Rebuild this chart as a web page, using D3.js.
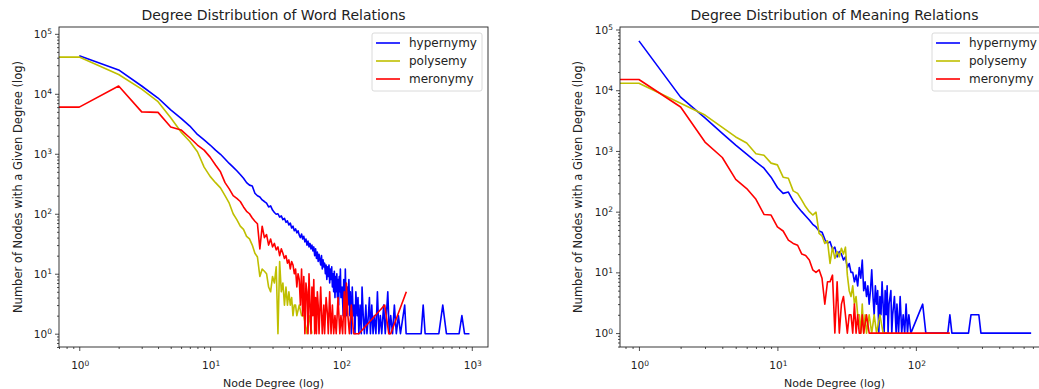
<!DOCTYPE html>
<html>
<head>
<meta charset="utf-8">
<script src="https://cdn.jsdelivr.net/npm/d3@7"></script>
<style>
  body { margin: 0; background: #fff; }
  svg { display: block; font-family: "DejaVu Sans", sans-serif; }
</style>
</head>
<body>
<svg id="chart" width="1039" height="389"></svg>
<script>
// ---- data (degree -> number of nodes) ----
const seriesNames = ['hypernymy', 'polysemy', 'meronymy'];
const seriesColors = ['#0000ff', '#bfbf00', '#ff0000'];
const majorTicks = [1, 10, 100, 1000];

// word relations, hypernymy
const wordHyperDeg = [
  1, 2, 3, 4, 5, 6, 7, 8, 9, 10, 11, 12, 13, 14, 15, 16, 17, 18, 19, 20,
  21, 22, 23, 24, 25, 26, 27, 28, 29, 30, 31, 32, 33, 34, 35, 36, 37, 38, 39, 40,
  41, 42, 43, 44, 45, 46, 47, 48, 49, 50, 51, 52, 53, 54, 55, 56, 57, 58, 59, 60,
  61, 62, 63, 64, 65, 66, 67, 68, 69, 70, 71, 72, 73, 74, 75, 76, 77, 78, 79, 80,
  81, 82, 83, 84, 85, 86, 87, 88, 89, 90, 91, 92, 93, 94, 95, 96, 97, 98, 99, 100,
  102, 104, 105, 107, 108, 110, 112, 113, 115, 117, 118, 120, 122, 124, 126, 128, 130, 133, 135, 137,
  140, 143, 145, 148, 151, 155, 158, 162, 165, 168, 172, 176, 180, 185, 190, 195, 200, 205, 212, 218,
  228, 234, 240, 248, 256, 265, 275, 285, 307, 315, 330, 350, 380, 410, 425, 440, 560, 600, 640, 800,
  840, 880, 960
];
const wordHyperCnt = [
  43000, 25000, 13500, 8500, 5400, 3900, 2900, 2100, 1700, 1400, 1150, 980, 820, 690, 600, 520, 450, 390, 330, 300,
  290, 220, 200, 190, 170, 160, 150, 130, 135, 115, 105, 98, 100, 88, 92, 80, 84, 72, 76, 65,
  70, 58, 62, 52, 56, 48, 52, 44, 40, 46, 38, 42, 34, 38, 30, 35, 28, 32, 26, 30,
  24, 28, 20, 26, 18, 23, 16, 21, 17, 14, 20, 12, 17, 13, 15, 10, 14, 8, 13, 9,
  14, 7, 12, 8, 13, 6, 10, 5, 11, 4, 9, 5, 10, 4, 8, 3, 9, 5, 12, 4,
  6, 2, 8, 3, 12, 2, 6, 3, 8, 2, 5, 1, 6, 2, 3, 1, 5, 2, 4, 1,
  3, 1, 6, 2, 1, 3, 1, 2, 4, 1, 3, 1, 2, 1, 5, 1, 2, 1, 3, 1,
  5, 1, 2, 1, 3, 1, 2, 1, 3, 1, 1, 1, 1, 1, 3, 1, 1, 3, 1, 1,
  2, 1, 1
];

// word relations, polysemy (degree 0 included)
const wordPolyDeg = [
  0, 1, 2, 3, 4, 5, 6, 7, 8, 9, 10, 11, 12, 13, 14, 15, 16, 17, 18, 19,
  20, 21, 22, 23, 24, 25, 26, 27, 28, 29, 30, 31, 32, 33, 34, 35, 36, 37, 38, 39,
  40, 41, 42, 43, 44, 45, 46, 48, 50, 52, 55, 57, 60
];
const wordPolyCnt = [
  40000, 41000, 21000, 12000, 7400, 4000, 2300, 1600, 1080, 600, 420, 330, 270, 200, 150, 100, 80, 62, 55, 42,
  38, 30, 22, 19, 9, 12, 11, 10, 6, 5, 9, 7, 13, 1, 16, 5, 7, 3, 6, 3,
  5, 3, 4, 2, 3, 3, 2, 3, 2, 2, 1, 2, 1
];

// word relations, meronymy (degree 0 included)
const wordMeroDeg = [
  0, 1, 2, 3, 4, 5, 6, 7, 8, 9, 10, 11, 12, 13, 14, 15, 16, 17, 18, 19,
  20, 21, 22, 23, 24, 25, 26, 27, 28, 29, 30, 31, 32, 33, 34, 35, 36, 37, 38, 39,
  40, 41, 42, 43, 44, 45, 46, 47, 48, 49, 50, 51, 52, 53, 54, 55, 56, 57, 58, 59,
  60, 61, 62, 63, 64, 65, 66, 67, 68, 70, 72, 74, 75, 77, 79, 80, 82, 84, 86, 88,
  90, 92, 95, 98, 100, 103, 106, 108, 110, 113, 116, 120, 125, 137, 216, 232, 240, 316
];
const wordMeroCnt = [
  6000, 6000, 13500, 5000, 4900, 2800, 2500, 1850, 1400, 1150, 880, 650, 500, 330, 260, 200, 180, 160, 130, 110,
  100, 85, 75, 68, 26, 62, 40, 45, 30, 38, 28, 32, 25, 28, 20, 26, 22, 18, 20, 15,
  17, 12, 16, 14, 10, 12, 6, 10, 8, 3, 12, 2, 9, 1, 7, 5, 1, 10, 3, 1,
  6, 2, 8, 1, 4, 1, 5, 3, 1, 6, 1, 3, 1, 4, 2, 1, 5, 1, 3, 1,
  2, 1, 4, 1, 2, 1, 5, 1, 7, 2, 1, 3, 1, 1, 3, 1, 1, 5
];

// meaning relations, hypernymy
const meanHyperDeg = [
  1, 2, 3, 4, 5, 6, 7, 8, 9, 10, 11, 12, 13, 14, 15, 16, 17, 18, 19, 20,
  21, 22, 23, 24, 25, 26, 27, 28, 29, 30, 31, 32, 33, 34, 35, 36, 37, 38, 39, 40,
  41, 42, 43, 44, 45, 46, 47, 48, 49, 50, 51, 52, 53, 54, 55, 56, 57, 58, 59, 60,
  61, 62, 63, 64, 66, 67, 68, 70, 72, 73, 75, 77, 79, 81, 83, 85, 87, 89, 92, 112,
  118, 170, 176, 182, 240, 250, 285, 295, 680
];
const meanHyperCnt = [
  65000, 7700, 3500, 1950, 1250, 890, 660, 520, 370, 250, 200, 210, 150, 120, 100, 85, 73, 62, 56, 48,
  46, 35, 30, 32, 24, 26, 18, 22, 20, 16, 18, 12, 14, 10, 10, 7, 9, 6, 12, 8,
  16, 5, 7, 4, 6, 3, 5, 11, 4, 2, 6, 3, 5, 1, 4, 2, 7, 3, 1, 5,
  2, 6, 1, 3, 5, 1, 2, 4, 1, 3, 1, 4, 1, 2, 1, 3, 1, 2, 1, 3,
  1, 1, 2, 1, 1, 2, 2, 1, 1
];

// meaning relations, polysemy (degree 0 included)
const meanPolyDeg = [
  0, 1, 2, 3, 4, 5, 6, 7, 8, 9, 10, 11, 12, 13, 14, 15, 16, 17, 18, 19,
  20, 21, 22, 23, 24, 25, 26, 27, 28, 29, 30, 31, 32, 33, 34, 35, 36, 37, 38, 39,
  40, 41, 42, 43, 44, 46, 48, 50, 52, 55, 58, 62
];
const meanPolyCnt = [
  13000, 13000, 6100, 3900, 2450, 1700, 1350, 900, 850, 630, 590, 370, 355, 220, 200, 155, 120, 100, 88, 98,
  44, 40, 30, 33, 14, 26, 17, 22, 18, 25, 20, 26, 9, 5, 4, 6, 3, 4, 2, 2,
  1, 3, 1, 2, 1, 2, 1, 2, 1, 2, 1, 1
];

// meaning relations, meronymy (degree 0 included)
const meanMeroDeg = [
  0, 1, 2, 3, 4, 5, 6, 7, 8, 9, 10, 11, 12, 13, 14, 15, 16, 17, 18, 19,
  20, 21, 22, 23, 24, 25, 26, 27, 28, 29, 30, 31, 32, 33, 34, 35, 36, 37, 38, 39,
  40, 41, 42, 44, 46, 48, 52, 60, 80, 120, 176
];
const meanMeroCnt = [
  15000, 15000, 5300, 1400, 780, 340, 240, 160, 90, 88, 56, 48, 34, 30, 28, 20, 19, 16, 11, 10,
  11, 8, 3, 7, 7, 9, 1, 7, 1, 3, 4, 2, 1, 2, 2, 1, 3, 1, 2, 1,
  1, 2, 1, 2, 1, 1, 1, 1, 1, 1, 1
];

const panels = [
  {
    title: 'Degree Distribution of Word Relations',
    left: 59, right: 488,
    xDomain: [0.7, 1330], yDomain: [0.6, 1.3e5],
    yLabelX: 18, legendLeft: 372,
    series: [[wordHyperDeg, wordHyperCnt], [wordPolyDeg, wordPolyCnt], [wordMeroDeg, wordMeroCnt]]
  },
  {
    title: 'Degree Distribution of Meaning Relations',
    left: 620, right: 1049,
    xDomain: [0.73, 915], yDomain: [0.59, 1.1e5],
    yLabelX: 578, legendLeft: 932,
    series: [[meanHyperDeg, meanHyperCnt], [meanPolyDeg, meanPolyCnt], [meanMeroDeg, meanMeroCnt]]
  }
];

const plotTop = 27, plotBottom = 347;
const svg = d3.select('#chart');

function minorValues(domain) {
  const out = [];
  const lo = Math.floor(Math.log10(domain[0])), hi = Math.ceil(Math.log10(domain[1]));
  for (let k = lo; k <= hi; k++) {
    for (let m = 2; m <= 9; m++) {
      const v = m * Math.pow(10, k);
      if (v >= domain[0] && v <= domain[1]) out.push(v);
    }
  }
  return out;
}

function powLabel(sel, k) {
  sel.append('tspan').text('10');
  sel.append('tspan').attr('dy', '-0.45em').style('font-size', '7.5px').text(k);
}

function drawPanel(p, i) {
  const x = d3.scaleLog().domain(p.xDomain).range([p.left, p.right]);
  const y = d3.scaleLog().domain(p.yDomain).range([plotBottom, plotTop]);
  const g = svg.append('g');

  g.append('clipPath').attr('id', 'clip' + i)
    .append('rect')
    .attr('x', p.left).attr('y', plotTop)
    .attr('width', p.right - p.left).attr('height', plotBottom - plotTop);

  // degree 0 sits off the left of a log axis; push it outside and let the clip cut it
  const line = d3.line()
    .x(d => x(d[0] === 0 ? p.xDomain[0] / 100 : d[0]))
    .y(d => y(d[1]));

  const plot = g.append('g').attr('clip-path', `url(#clip${i})`);
  p.series.forEach((s, j) => {
    const pts = s[0].map((deg, n) => [deg, s[1][n]]);
    plot.append('path')
      .datum(pts)
      .attr('d', line)
      .attr('fill', 'none')
      .attr('stroke', seriesColors[j])
      .attr('stroke-width', 1.6)
      .attr('stroke-linejoin', 'round');
  });

  // axes: minor then major ticks
  const xMajor = majorTicks.filter(v => v >= p.xDomain[0] && v <= p.xDomain[1]);
  const yMajor = [1, 10, 100, 1000, 10000, 100000];

  g.append('g').attr('transform', `translate(0,${plotBottom})`)
    .call(d3.axisBottom(x).tickValues(minorValues(p.xDomain)).tickSize(2).tickFormat(''));
  g.append('g').attr('transform', `translate(0,${plotBottom})`)
    .call(d3.axisBottom(x).tickValues(xMajor).tickSize(4).tickFormat(''));
  g.append('g').attr('transform', `translate(${p.left},0)`)
    .call(d3.axisLeft(y).tickValues(minorValues(p.yDomain)).tickSize(2).tickFormat(''));
  g.append('g').attr('transform', `translate(${p.left},0)`)
    .call(d3.axisLeft(y).tickValues(yMajor).tickSize(4).tickFormat(''));
  g.selectAll('.domain').remove();
  g.selectAll('.tick line').attr('stroke', '#222').attr('stroke-width', 0.8);

  xMajor.forEach(v => {
    g.append('text')
      .attr('x', x(v) + 1).attr('y', plotBottom + 22)
      .attr('text-anchor', 'middle')
      .style('font-size', '10.5px').attr('fill', '#222')
      .call(powLabel, Math.round(Math.log10(v)));
  });
  yMajor.forEach(v => {
    g.append('text')
      .attr('x', p.left - 7).attr('y', y(v) + 4)
      .attr('text-anchor', 'end')
      .style('font-size', '10.5px').attr('fill', '#222')
      .call(powLabel, Math.round(Math.log10(v)));
  });

  // frame
  g.append('rect')
    .attr('x', p.left).attr('y', plotTop)
    .attr('width', p.right - p.left).attr('height', plotBottom - plotTop)
    .attr('fill', 'none').attr('stroke', '#222').attr('stroke-width', 0.9);

  g.append('text')
    .attr('x', (p.left + p.right) / 2).attr('y', 20)
    .attr('text-anchor', 'middle')
    .style('font-size', '14px').attr('fill', '#222')
    .text(p.title);

  g.append('text')
    .attr('x', (p.left + p.right) / 2).attr('y', 387)
    .attr('text-anchor', 'middle')
    .style('font-size', '11px').attr('fill', '#222')
    .text('Node Degree (log)');

  g.append('text')
    .attr('transform', `translate(${p.yLabelX + 4},${(plotTop + plotBottom) / 2}) rotate(-90)`)
    .attr('text-anchor', 'middle')
    .style('font-size', '11.5px').attr('fill', '#222')
    .text('Number of Nodes with a Given Degree (log)');

  // legend
  const lg = g.append('g').attr('transform', `translate(${p.legendLeft},33)`);
  lg.append('rect')
    .attr('width', 110).attr('height', 58).attr('rx', 2)
    .attr('fill', '#fff').attr('fill-opacity', 0.8)
    .attr('stroke', '#d0d0d0').attr('stroke-width', 0.8);
  seriesNames.forEach((name, j) => {
    const yy = 10 + j * 18;
    lg.append('line')
      .attr('x1', 4).attr('x2', 28).attr('y1', yy).attr('y2', yy)
      .attr('stroke', seriesColors[j]).attr('stroke-width', 1.6);
    lg.append('text')
      .attr('x', 37).attr('y', yy + 4)
      .style('font-size', '12px').attr('fill', '#222')
      .text(name);
  });
}

panels.forEach(drawPanel);
</script>
</body>
</html>
